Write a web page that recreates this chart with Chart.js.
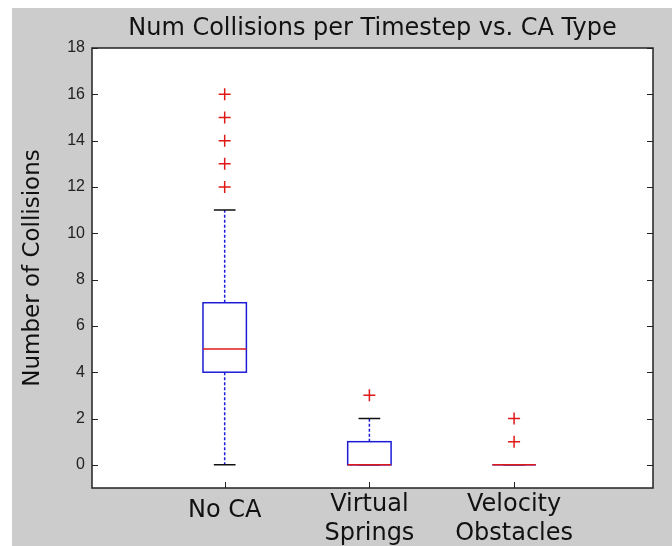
<!DOCTYPE html>
<html>
<head>
<meta charset="utf-8">
<title>Num Collisions per Timestep vs. CA Type</title>
<script src="https://cdn.jsdelivr.net/npm/chart.js@4.4.1/dist/chart.umd.min.js"></script>
<style>
  html, body { margin: 0; padding: 0; background: #fff; }
  #wrap { width: 672px; height: 546px; }
</style>
</head>
<body>
<div id="wrap"><canvas id="boxChart"></canvas></div>
<script>
// box plot stats per CA type
const categories = ["No CA", "Virtual\nSprings", "Velocity\nObstacles"];
const whiskerLow = [0, 0, 0];
const q1 = [4, 0, 0];
const median = [5, 0, 0];
const q3 = [7, 1, 0];
const whiskerHigh = [11, 2, 0];
const outliers = [[12, 13, 14, 15, 16], [3], [1, 2]];
const yTicks = [0, 2, 4, 6, 8, 10, 12, 14, 16, 18];

const BOX_HALF = 0.15;   // half box width, in x units
const CAP_HALF = 0.075;  // half whisker cap width
const BLUE = "#1c1cd6";
const RED = "#e01818";

// flatten outliers into scatter points
const outlierPoints = [];
outliers.forEach((vals, i) => {
    vals.forEach((v) => outlierPoints.push({ x: i + 1, y: v }));
});

// gray figure background with a thin white margin
const figureBg = {
    id: "figureBg",
    beforeDraw(chart) {
        const ctx = chart.ctx;
        ctx.save();
        ctx.fillStyle = "#ffffff";
        ctx.fillRect(0, 0, chart.width, chart.height);
        ctx.fillStyle = "#cccccc";
        ctx.fillRect(12, 8, chart.width - 12, chart.height - 8);
        const a = chart.chartArea;
        ctx.fillStyle = "#ffffff";
        ctx.fillRect(a.left, a.top, a.right - a.left, a.bottom - a.top);
        ctx.restore();
    },
};

// boxes, whiskers, caps and medians
const boxPlot = {
    id: "boxPlot",
    beforeDatasetsDraw(chart) {
        const ctx = chart.ctx;
        const xs = chart.scales.x;
        const ys = chart.scales.y;
        ctx.save();
        categories.forEach((c, i) => {
            const pos = i + 1;
            const cx = xs.getPixelForValue(pos);
            const bl = xs.getPixelForValue(pos - BOX_HALF);
            const br = xs.getPixelForValue(pos + BOX_HALF);
            const cl = xs.getPixelForValue(pos - CAP_HALF);
            const cr = xs.getPixelForValue(pos + CAP_HALF);
            const yLo = ys.getPixelForValue(whiskerLow[i]);
            const yQ1 = ys.getPixelForValue(q1[i]);
            const yMed = ys.getPixelForValue(median[i]);
            const yQ3 = ys.getPixelForValue(q3[i]);
            const yHi = ys.getPixelForValue(whiskerHigh[i]);

            // dashed whiskers
            ctx.strokeStyle = BLUE;
            ctx.lineWidth = 1.5;
            ctx.setLineDash([3, 2]);
            ctx.beginPath();
            ctx.moveTo(cx, yQ3);
            ctx.lineTo(cx, yHi);
            ctx.moveTo(cx, yQ1);
            ctx.lineTo(cx, yLo);
            ctx.stroke();
            ctx.setLineDash([]);

            // caps
            ctx.strokeStyle = "#111111";
            ctx.beginPath();
            ctx.moveTo(cl, yHi);
            ctx.lineTo(cr, yHi);
            ctx.moveTo(cl, yLo);
            ctx.lineTo(cr, yLo);
            ctx.stroke();

            // box
            ctx.strokeStyle = BLUE;
            ctx.strokeRect(bl, yQ3, br - bl, yQ1 - yQ3);

            // median
            ctx.strokeStyle = RED;
            ctx.beginPath();
            ctx.moveTo(bl, yMed);
            ctx.lineTo(br, yMed);
            ctx.stroke();
        });
        ctx.restore();
    },
    afterDatasetsDraw(chart) {
        // axes frame with inward ticks
        const ctx = chart.ctx;
        const a = chart.chartArea;
        const xs = chart.scales.x;
        const ys = chart.scales.y;
        ctx.save();
        ctx.strokeStyle = "#222222";
        ctx.lineWidth = 1.5;
        ctx.strokeRect(a.left, a.top, a.right - a.left, a.bottom - a.top);
        ctx.lineWidth = 1;
        ctx.beginPath();
        ys.ticks.forEach((t) => {
            const y = Math.round(ys.getPixelForValue(t.value)) + 0.5;
            ctx.moveTo(a.left, y);
            ctx.lineTo(a.left + 6, y);
            ctx.moveTo(a.right, y);
            ctx.lineTo(a.right - 6, y);
        });
        xs.ticks.forEach((t) => {
            const x = Math.round(xs.getPixelForValue(t.value)) + 0.5;
            ctx.moveTo(x, a.bottom);
            ctx.lineTo(x, a.bottom - 6);
        });
        ctx.stroke();
        ctx.restore();
    },
};

const ctx = document.getElementById("boxChart").getContext("2d");
const boxChart = new Chart(ctx, {
    type: "scatter",
    data: {
        datasets: [
            {
                label: "outliers",
                data: outlierPoints,
                pointStyle: "cross",
                radius: 6,
                hoverRadius: 6,
                borderColor: RED,
                borderWidth: 1.5,
            },
        ],
    },
    options: {
        responsive: true,
        maintainAspectRatio: false,
        animation: false,
        layout: { padding: { left: 0, top: 0, right: 19, bottom: 0 } },
        plugins: {
            legend: { display: false },
            tooltip: { enabled: false },
            title: {
                display: true,
                fullSize: false,
                text: "Num Collisions per Timestep vs. CA Type",
                color: "#111111",
                font: { family: "DejaVu Sans", size: 24, weight: "normal", lineHeight: 1 },
                padding: { top: 17, bottom: 7 },
            },
        },
        scales: {
            x: {
                type: "linear",
                min: 0.083,
                max: 3.96,
                afterBuildTicks: (scale) => {
                    scale.ticks = categories.map((c, i) => ({ value: i + 1 }));
                },
                afterFit: (scale) => {
                    scale.height = 58;
                },
                ticks: {
                    callback: (value, index) => categories[index].split("\n"),
                    color: "#111111",
                    crossAlign: "near",
                    padding: 2,
                    maxRotation: 0,
                    autoSkip: false,
                    // single-line label sits a bit lower than the two-line ones
                    font: (c) => ({
                        family: "DejaVu Sans",
                        size: 24,
                        lineHeight: c.index === 0 ? "42px" : "29px",
                    }),
                },
                grid: { display: false, drawTicks: false },
                border: { display: false },
            },
            y: {
                min: -1,
                max: 18,
                afterBuildTicks: (scale) => {
                    scale.ticks = yTicks.map((v) => ({ value: v }));
                },
                afterFit: (scale) => {
                    scale.width = 92;
                },
                ticks: {
                    color: "#222222",
                    padding: 7,
                    font: { family: "Liberation Sans", size: 16 },
                },
                title: {
                    display: true,
                    text: "Number of Collisions",
                    color: "#111111",
                    font: { family: "DejaVu Sans", size: 23, lineHeight: 1.2 },
                    padding: { top: 19, bottom: 0 },
                },
                grid: { display: false, drawTicks: false },
                border: { display: false },
            },
        },
    },
    plugins: [figureBg, boxPlot],
});
</script>
</body>
</html>
